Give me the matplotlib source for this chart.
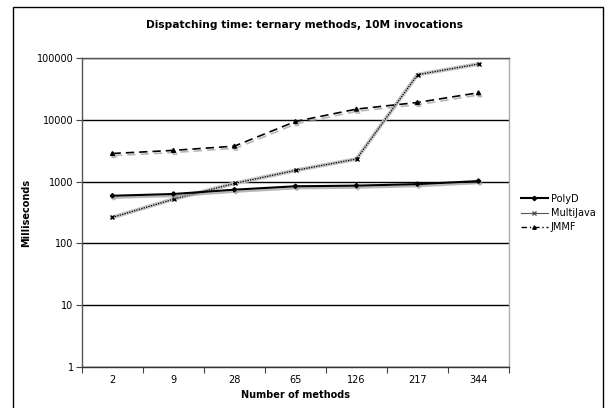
import numpy as np
import matplotlib
matplotlib.use("Agg")
import matplotlib.pyplot as plt
import matplotlib.patheffects as pe
from matplotlib.lines import Line2D
from matplotlib.patches import Rectangle

# datos
metodos = ["2", "9", "28", "65", "126", "217", "344"]
polyd = [590, 630, 740, 840, 860, 910, 1020]
multijava = [264, 520, 935, 1520, 2320, 53700, 80000]
jmmf = [2850, 3200, 3750, 9400, 14900, 19100, 27400]
yticks = [1, 10, 100, 1000, 10000, 100000]

plt.rc('font', family='DejaVu Sans', size=7)

fig = plt.figure(figsize=(6.05, 4.08), dpi=100)
fig.patch.set_facecolor('white')

# marco exterior
fig.patches.append(Rectangle((12.7/605, -0.05), (602.7-12.7)/605, 1.05 - 7.3/408,
                             transform=fig.transFigure, fill=False,
                             edgecolor='black', linewidth=1.0, clip_on=False))

ax = fig.add_axes([82/605, 1-367/408, (509-82)/605, (367-58)/408])
x = np.arange(len(metodos))

sombra = [pe.SimpleLineShadow(offset=(1, -1.5), shadow_color='#999999', alpha=0.7), pe.Normal()]

ax.plot(x, polyd, color='black', linewidth=1.5, marker='D', markersize=2.2,
        path_effects=sombra, zorder=4)

ax.plot(x, multijava, color='#c4c4c4', linewidth=2.8, zorder=3)
ax.plot(x, multijava, color='black', linewidth=0.9, linestyle=(0, (1, 1)),
        marker='x', markersize=2.5, markeredgewidth=1, zorder=3)

ax.plot(x, jmmf, color='black', linewidth=1.2, linestyle=(0, (5, 3)), marker='^',
        markersize=2.8, path_effects=sombra, zorder=4)

ax.set_yscale('log')
ax.set_ylim(1, 100000)
ax.set_yticks(yticks)
ax.set_yticklabels([str(v) for v in yticks])
ax.yaxis.set_minor_locator(matplotlib.ticker.NullLocator())
ax.set_xlim(-0.5, len(metodos) - 0.5)
ax.set_xticks(np.arange(-0.5, len(metodos)))
ax.set_xticklabels([])
ax.set_xticks(x, minor=True)
ax.set_xticklabels(metodos, minor=True)
ax.tick_params(axis='x', which='minor', length=0, pad=6)
ax.tick_params(axis='x', which='major', length=4, width=0.8, color='#444444')
ax.tick_params(axis='y', length=4, width=0.8, color='#444444', pad=2)

ax.grid(axis='y', which='major', color='black', linewidth=1.0)
ax.set_axisbelow(True)
ax.spines['left'].set_color('#555555')
ax.spines['bottom'].set_color('#333333')
ax.spines['top'].set_color('#555555')
ax.spines['right'].set_color('#aaaaaa')
for s in ax.spines.values():
    s.set_linewidth(1.0)

ax.set_xlabel('Number of methods', fontweight='bold', fontsize=7, labelpad=3)
ax.set_ylabel('Milliseconds', fontweight='bold', fontsize=7, labelpad=4)

fig.text(305/605, 1 - 25/408, 'Dispatching time: ternary methods, 10M invocations',
         ha='center', va='center', fontweight='bold', fontsize=7.7)

handles = [
    Line2D([], [], color='black', linewidth=1.5, marker='D', markersize=2.2),
    Line2D([], [], color='#555555', linewidth=0.8, marker='x', markersize=2.5),
    Line2D([], [], color='black', linewidth=1.0, linestyle=(0, (4, 2, 1, 2)), marker='^', markersize=2.5),
]
fig.legend(handles, ['PolyD', 'MultiJava', 'JMMF'], loc='center left',
           bbox_to_anchor=(512/605, 1 - 213/408), frameon=False, fontsize=7,
           handlelength=2.8, handletextpad=0.3, labelspacing=0.45)

fig.savefig('out.png', dpi=100)
